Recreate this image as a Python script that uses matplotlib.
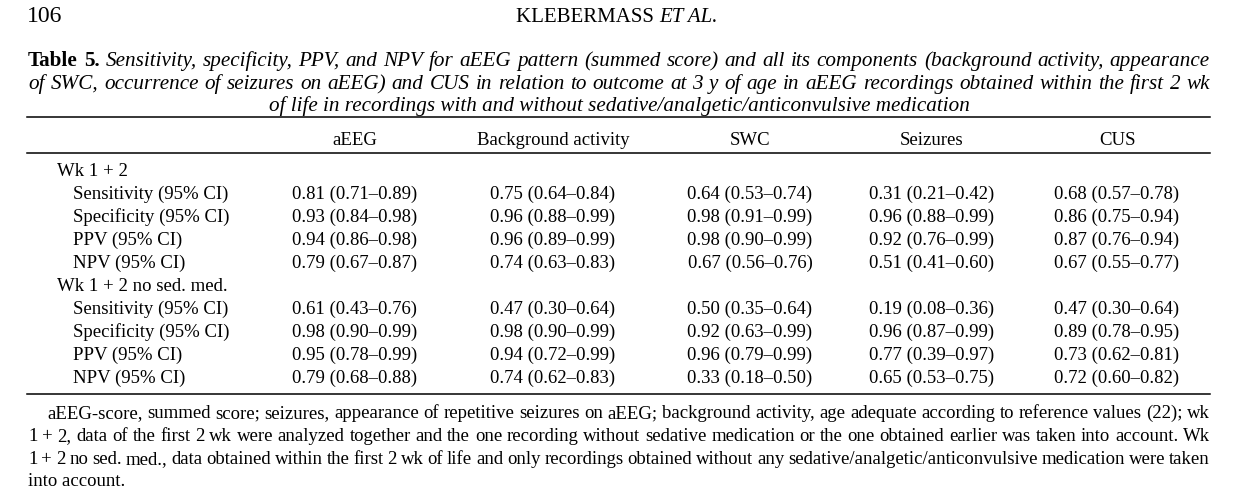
import matplotlib
matplotlib.use("Agg")
import matplotlib.pyplot as plt

FONT = "Liberation Serif"
W, H = 1244, 501

columns = ["aEEG", "Background activity", "SWC", "Seizures", "CUS"]
groups = ["Wk 1 + 2", "Wk 1 + 2 no sed. med."]
measures = ["Sensitivity (95% CI)", "Specificity (95% CI)",
            "PPV (95% CI)", "NPV (95% CI)"]

# rows = measures, cols = columns
wk_est = [[0.81, 0.75, 0.64, 0.31, 0.68],
          [0.93, 0.96, 0.98, 0.96, 0.86],
          [0.94, 0.96, 0.98, 0.92, 0.87],
          [0.79, 0.74, 0.67, 0.51, 0.67]]
wk_lo = [[0.71, 0.64, 0.53, 0.21, 0.57],
         [0.84, 0.88, 0.91, 0.88, 0.75],
         [0.86, 0.89, 0.90, 0.76, 0.76],
         [0.67, 0.63, 0.56, 0.41, 0.55]]
wk_hi = [[0.89, 0.84, 0.74, 0.42, 0.78],
         [0.98, 0.99, 0.99, 0.99, 0.94],
         [0.98, 0.99, 0.99, 0.99, 0.94],
         [0.87, 0.83, 0.76, 0.60, 0.77]]

nosed_est = [[0.61, 0.47, 0.50, 0.19, 0.47],
             [0.98, 0.98, 0.92, 0.96, 0.89],
             [0.95, 0.94, 0.96, 0.77, 0.73],
             [0.79, 0.74, 0.33, 0.65, 0.72]]
nosed_lo = [[0.43, 0.30, 0.35, 0.08, 0.30],
            [0.90, 0.90, 0.63, 0.87, 0.78],
            [0.78, 0.72, 0.79, 0.39, 0.62],
            [0.68, 0.62, 0.18, 0.53, 0.60]]
nosed_hi = [[0.76, 0.64, 0.64, 0.36, 0.64],
            [0.99, 0.99, 0.99, 0.99, 0.95],
            [0.99, 0.99, 0.99, 0.97, 0.81],
            [0.88, 0.83, 0.50, 0.75, 0.82]]

caption = [
    "Sensitivity, specificity, PPV, and NPV for aEEG pattern (summed score) "
    "and all its components (background activity, appearance",
    "of SWC, occurrence of seizures on aEEG) and CUS in relation to outcome "
    "at 3 y of age in aEEG recordings obtained within the first 2 wk",
    "of life in recordings with and without sedative/analgetic/anticonvulsive "
    "medication",
]
footnote = [
    "aEEG-score, summed score; seizures, appearance of repetitive seizures on "
    "aEEG; background activity, age adequate according to reference values "
    "(22); wk",
    "1 + 2, data of the first 2 wk were analyzed together and the one "
    "recording without sedative medication or the one obtained earlier was "
    "taken into account. Wk",
    "1 + 2 no sed. med., data obtained within the first 2 wk of life and only "
    "recordings obtained without any sedative/analgetic/anticonvulsive "
    "medication were taken",
    "into account.",
]

fig = plt.figure(figsize=(W / 100, H / 100), dpi=100)
ax = fig.add_axes([0, 0, 1, 1])
ax.set_xlim(0, W)
ax.set_ylim(H, 0)
ax.axis("off")
renderer = fig.canvas.get_renderer()


def text_width(s, **kw):
    t = ax.text(0, 0, s, fontfamily=FONT, **kw)
    w = t.get_window_extent(renderer).width
    t.remove()
    return w


def fit_size(s, target, **kw):
    """font size at which s is about target pixels wide"""
    return 12 * target / text_width(s, fontsize=12, **kw)


def justify(words, x0, x1, y, size):
    """words: list of (word, style, weight); spread them from x0 to x1"""
    widths = [text_width(w, fontsize=size, style=s, weight=b)
              for w, s, b in words]
    gap = (x1 - x0 - sum(widths)) / max(len(words) - 1, 1)
    x = x0
    for (w, s, b), wd in zip(words, widths):
        ax.text(x, y, w, fontfamily=FONT, fontsize=size, style=s, weight=b,
                ha="left", va="baseline")
        x += wd + gap


# page header
ax.text(27, 22, "106", fontfamily=FONT, fontsize=17, va="baseline")
w1 = text_width("KLEBERMASS ", fontsize=15)
w2 = text_width("ET AL.", fontsize=15, style="italic")
hx = 617 - (w1 + w2) / 2
ax.text(hx, 22, "KLEBERMASS ", fontfamily=FONT, fontsize=15, va="baseline")
ax.text(hx + w1, 22, "ET AL.", fontfamily=FONT, fontsize=15,
        style="italic", va="baseline")

# caption
cap_size = fit_size(caption[2], 698, style="italic")
line1 = [("Table", "normal", "bold"), ("5.", "normal", "bold")]
line1 += [(w, "italic", "normal") for w in caption[0].split()]
justify(line1, 28, 1210, 66, cap_size)
justify([(w, "italic", "normal") for w in caption[1].split()],
        28, 1210, 89, cap_size)
ax.text(619, 111, caption[2], fontfamily=FONT, fontsize=cap_size,
        style="italic", ha="center", va="baseline")

# rules
for y in (117, 153, 394):
    ax.plot([27, 1210], [y, y], color="black", lw=1.1)

# table
tab_size = 13.5
col_x = [355, 553, 750, 932, 1117]
for cx, name in zip(col_x, columns):
    ax.text(cx, 145, name, fontfamily=FONT, fontsize=tab_size,
            ha="center", va="baseline")

y = 176
step = 23
for gname, est, lo, hi in [(groups[0], wk_est, wk_lo, wk_hi),
                           (groups[1], nosed_est, nosed_lo, nosed_hi)]:
    ax.text(57, y, gname, fontfamily=FONT, fontsize=tab_size, va="baseline")
    y += step
    for i, m in enumerate(measures):
        ax.text(73, y, m, fontfamily=FONT, fontsize=tab_size, va="baseline")
        for j, cx in enumerate(col_x):
            s = "{:.2f} ({:.2f}\u2013{:.2f})".format(est[i][j], lo[i][j],
                                                     hi[i][j])
            ax.text(cx, y, s, fontfamily=FONT, fontsize=tab_size,
                    ha="center", va="baseline")
        y += step

# footnote
fn_size = fit_size(footnote[1], 1175)
fn_y = [418, 441, 464, 486]
justify([(w, "normal", "normal") for w in footnote[0].split()],
        47, 1210, fn_y[0], fn_size)
justify([(w, "normal", "normal") for w in footnote[1].split()],
        28, 1210, fn_y[1], fn_size)
justify([(w, "normal", "normal") for w in footnote[2].split()],
        28, 1210, fn_y[2], fn_size)
ax.text(28, fn_y[3], footnote[3], fontfamily=FONT, fontsize=fn_size,
        va="baseline")

fig.savefig("out.png", dpi=100)
